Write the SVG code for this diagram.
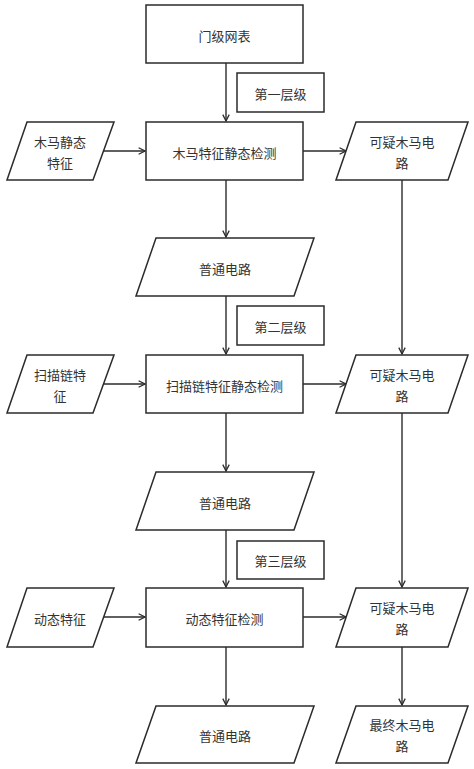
<svg xmlns="http://www.w3.org/2000/svg" width="474" height="769" viewBox="0 0 474 769">
<defs>
<style>
.box{fill:#fff;stroke:#2b2b2b;stroke-width:1.5}
.t{font-family:"Noto Sans CJK SC","Liberation Serif",serif;font-size:13px;fill:#333;text-anchor:middle;dominant-baseline:central}
.c{fill:none;stroke:#2b2b2b;stroke-width:1.4}
</style>
<marker id="ah" viewBox="0 0 10 10" refX="9" refY="5" markerWidth="8" markerHeight="8" orient="auto" markerUnits="userSpaceOnUse">
<path d="M1,1 L9,5 L1,9" fill="none" stroke="#2b2b2b" stroke-width="1.6"/>
</marker>
</defs>
<rect width="474" height="769" fill="#fff"/>
<g id="connectors">
<line class="c" x1="226" y1="63" x2="226" y2="121" marker-end="url(#ah)"/>
<line class="c" x1="104" y1="151" x2="145" y2="151" marker-end="url(#ah)"/>
<line class="c" x1="303" y1="151" x2="346" y2="151" marker-end="url(#ah)"/>
<line class="c" x1="226" y1="180" x2="226" y2="237" marker-end="url(#ah)"/>
<line class="c" x1="402" y1="180" x2="402" y2="354" marker-end="url(#ah)"/>
<line class="c" x1="226" y1="296" x2="226" y2="354" marker-end="url(#ah)"/>
<line class="c" x1="104" y1="384" x2="145" y2="384" marker-end="url(#ah)"/>
<line class="c" x1="303" y1="384" x2="346" y2="384" marker-end="url(#ah)"/>
<line class="c" x1="226" y1="413" x2="226" y2="471" marker-end="url(#ah)"/>
<line class="c" x1="402" y1="413" x2="402" y2="587" marker-end="url(#ah)"/>
<line class="c" x1="226" y1="530" x2="226" y2="587" marker-end="url(#ah)"/>
<line class="c" x1="104" y1="617" x2="145" y2="617" marker-end="url(#ah)"/>
<line class="c" x1="303" y1="617" x2="346" y2="617" marker-end="url(#ah)"/>
<line class="c" x1="226" y1="647" x2="226" y2="705" marker-end="url(#ah)"/>
<line class="c" x1="402" y1="647" x2="402" y2="705" marker-end="url(#ah)"/>
</g>
<g id="netlist"><rect class="box" x="146" y="5" width="157" height="58"/><text class="t" x="224.5" y="35">门级网表</text></g>
<g id="level1"><rect class="box" x="237" y="73" width="87" height="39"/><text class="t" x="280.5" y="93">第一层级</text></g>
<g id="trojanStatic"><polygon class="box" points="27,122 114,122 93,180 7,180"/><text class="t" x="60" y="141">木马静态</text><text class="t" x="60" y="162">特征</text></g>
<g id="detect1"><rect class="box" x="146" y="122" width="157" height="58"/><text class="t" x="224.5" y="152">木马特征静态检测</text></g>
<g id="suspect1"><polygon class="box" points="356,122 468,122 448,180 336,180"/><text class="t" x="402" y="141">可疑木马电</text><text class="t" x="402" y="162">路</text></g>
<g id="normal1"><polygon class="box" points="156,238 314,238 294,296 136,296"/><text class="t" x="225" y="268">普通电路</text></g>
<g id="level2"><rect class="box" x="237" y="306" width="87" height="39"/><text class="t" x="280.5" y="326">第二层级</text></g>
<g id="scanFeat"><polygon class="box" points="27,355 114,355 93,413 7,413"/><text class="t" x="60" y="374">扫描链特</text><text class="t" x="60" y="395">征</text></g>
<g id="detect2"><rect class="box" x="146" y="355" width="157" height="58"/><text class="t" x="224.5" y="385">扫描链特征静态检测</text></g>
<g id="suspect2"><polygon class="box" points="356,355 468,355 448,413 336,413"/><text class="t" x="402" y="374">可疑木马电</text><text class="t" x="402" y="395">路</text></g>
<g id="normal2"><polygon class="box" points="156,472 314,472 294,530 136,530"/><text class="t" x="225" y="502">普通电路</text></g>
<g id="level3"><rect class="box" x="237" y="541" width="87" height="38"/><text class="t" x="280.5" y="560">第三层级</text></g>
<g id="dynFeat"><polygon class="box" points="27,588 114,588 93,647 7,647"/><text class="t" x="60" y="618">动态特征</text></g>
<g id="detect3"><rect class="box" x="146" y="588" width="157" height="59"/><text class="t" x="224.5" y="618">动态特征检测</text></g>
<g id="suspect3"><polygon class="box" points="356,588 468,588 448,647 336,647"/><text class="t" x="402" y="607">可疑木马电</text><text class="t" x="402" y="628">路</text></g>
<g id="normal3"><polygon class="box" points="156,706 314,706 294,763 136,763"/><text class="t" x="225" y="735">普通电路</text></g>
<g id="final"><polygon class="box" points="356,706 468,706 448,763 336,763"/><text class="t" x="402" y="724">最终木马电</text><text class="t" x="402" y="745">路</text></g>
</svg>
